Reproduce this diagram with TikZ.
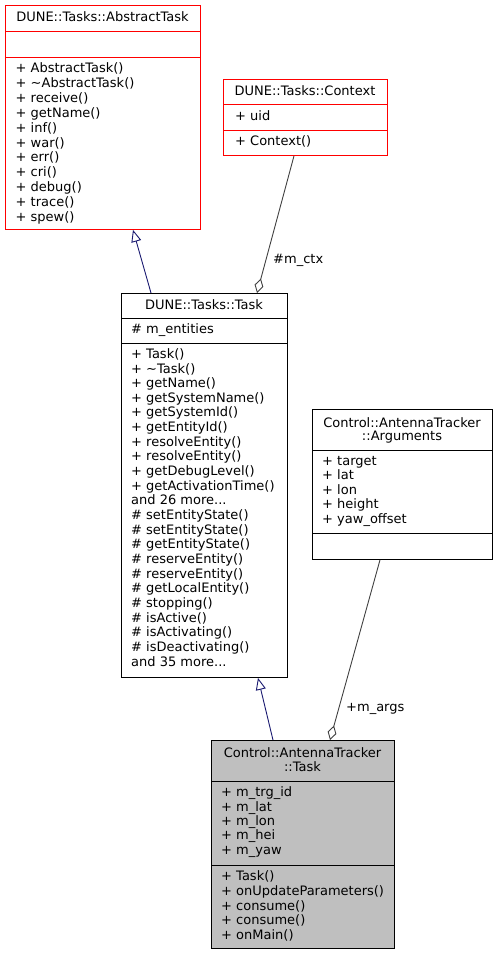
\documentclass[tikz,border=0pt]{standalone}
\usepackage{fontspec}
\setmainfont{DejaVu Sans}
\usetikzlibrary{arrows.meta}

\definecolor{edgeblue}{HTML}{191970}
\definecolor{edgegray}{HTML}{404040}
\definecolor{boxgray}{HTML}{BFBFBF}

\tikzset{
	classbox/.style = {draw, line width = 0.9pt, inner sep = 0pt, anchor = north west},
	divider/.style = {line width = 0.9pt},
	title/.style = {anchor = base, align = center, inner sep = 0pt, font = \fontsize{13}{14}\selectfont},
	members/.style = {anchor = base west, align = left, inner sep = 0pt, font = \fontsize{13}{14.65}\selectfont},
	role/.style = {anchor = base west, inner sep = 0pt, font = \fontsize{13}{14}\selectfont},
	inherit/.style = {edgeblue, line width = 0.9pt, -{Triangle[open, length = 12pt, width = 10pt]}},
	aggregate/.style = {edgegray, line width = 0.9pt, -{Diamond[open, length = 15pt, width = 9pt]}}
}

\begin{document}
\begin{tikzpicture}[x = 1pt, y = -1pt]

	\useasboundingbox (0, 0) rectangle (496, 955);

	% Abstract base class (text nodes sit on the baseline of their last line)

	\node (abstract) [classbox, red, minimum width = 195pt, minimum height = 224pt] at (5, 5) {};
	\draw [divider, red] ([yshift = -26pt] abstract.north west) -- ([yshift = -26pt] abstract.north east);
	\draw [divider, red] ([yshift = -52pt] abstract.north west) -- ([yshift = -52pt] abstract.north east);
	\node (abstract-title) [title] at (102.5, 22) {DUNE::Tasks::AbstractTask};
	\node (abstract-ops) [members, font = \fontsize{13}{14.9}\selectfont] at (15.5, 221.5) {+ AbstractTask()\\+ \textasciitilde{}AbstractTask()\\+ receive()\\+ getName()\\+ inf()\\+ war()\\+ err()\\+ cri()\\+ debug()\\+ trace()\\+ spew()};

	% Context class

	\node (context) [classbox, red, minimum width = 164pt, minimum height = 76pt] at (223, 79) {};
	\draw [divider, red] ([yshift = -25pt] context.north west) -- ([yshift = -25pt] context.north east);
	\draw [divider, red] ([yshift = -51pt] context.north west) -- ([yshift = -51pt] context.north east);
	\node (context-title) [title] at (305, 96) {DUNE::Tasks::Context};
	\node (context-attrs) [members] at (235, 120.7) {+ uid};
	\node (context-ops) [members] at (235, 146) {+ Context()};

	% Task class

	\node (task) [classbox, minimum width = 166pt, minimum height = 384pt] at (121, 293) {};
	\draw [divider] ([yshift = -25pt] task.north west) -- ([yshift = -25pt] task.north east);
	\draw [divider] ([yshift = -50pt] task.north west) -- ([yshift = -50pt] task.north east);
	\node (task-title) [title] at (204, 309.5) {DUNE::Tasks::Task};
	\node (task-attrs) [members] at (131, 333.3) {\# m\_entities};
	\node (task-ops) [members] at (131, 666) {+ Task()\\+ \textasciitilde{}Task()\\+ getName()\\+ getSystemName()\\+ getSystemId()\\+ getEntityId()\\+ resolveEntity()\\+ resolveEntity()\\+ getDebugLevel()\\+ getActivationTime()\\and 26 more...\\\# setEntityState()\\\# setEntityState()\\\# getEntityState()\\\# reserveEntity()\\\# reserveEntity()\\\# getLocalEntity()\\\# stopping()\\\# isActive()\\\# isActivating()\\\# isDeactivating()\\and 35 more...};

	% Arguments class

	\node (args) [classbox, minimum width = 180pt, minimum height = 150pt] at (312, 409) {};
	\draw [divider] ([yshift = -41pt] args.north west) -- ([yshift = -41pt] args.north east);
	\draw [divider] ([yshift = -124pt] args.north west) -- ([yshift = -124pt] args.north east);
	\node (args-title) [title, font = \fontsize{13}{13.5}\selectfont] at (402, 440.8) {Control::AntennaTracker\\::Arguments};
	\node (args-attrs) [members] at (322, 523.6) {+ target\\+ lat\\+ lon\\+ height\\+ yaw\_offset};

	% Antenna tracker task class

	\node (tracker) [classbox, fill = boxgray, minimum width = 183pt, minimum height = 208pt] at (211, 740) {};
	\draw [divider] ([yshift = -41pt] tracker.north west) -- ([yshift = -41pt] tracker.north east);
	\draw [divider] ([yshift = -125pt] tracker.north west) -- ([yshift = -125pt] tracker.north east);
	\node (tracker-title) [title] at (302.5, 771) {Control::AntennaTracker\\::Task};
	\node (tracker-attrs) [members, font = \fontsize{13}{14.4}\selectfont] at (221, 854.3) {+ m\_trg\_id\\+ m\_lat\\+ m\_lon\\+ m\_hei\\+ m\_yaw};
	\node (tracker-ops) [members] at (221, 939.3) {+ Task()\\+ onUpdateParameters()\\+ consume()\\+ consume()\\+ onMain()};

	% Inheritance

	\draw [inherit] ([xshift = 30pt] task.north west) -- ([xshift = 128pt] abstract.south west);
	\draw [inherit] ([xshift = 62pt] tracker.north west) -- ([xshift = 137pt] task.south west);

	% Aggregation

	\draw [aggregate] ([xshift = 71pt] context.south west) -- ([xshift = 136pt] task.north west);
	\draw [aggregate] ([xshift = 68pt] args.south west) -- ([xshift = 119pt] tracker.north west);

	\node (ctx-role) [role] at (273, 263.3) {\#m\_ctx};
	\node (args-role) [role] at (346, 711.7) {+m\_args};

\end{tikzpicture}
\end{document}
